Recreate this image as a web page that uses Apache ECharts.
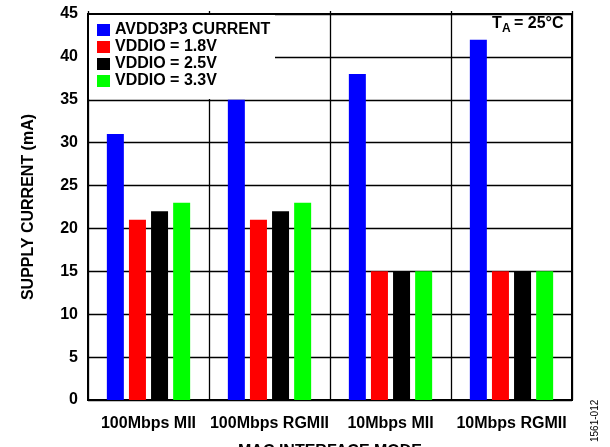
<!DOCTYPE html>
<html><head><meta charset="utf-8">
<script src="https://cdn.jsdelivr.net/npm/echarts@6/dist/echarts.min.js"></script>
<style>html,body{margin:0;padding:0;background:#fff}#c{width:610px;height:447px}</style>
</head><body><div id="c"></div>
<script>
const categories = ['100Mbps MII', '100Mbps RGMII', '10Mbps MII', '10Mbps RGMII'];
const seriesNames = ['AVDD3P3 CURRENT', 'VDDIO = 1.8V', 'VDDIO = 2.5V', 'VDDIO = 3.3V'];
const avdd3p3 = [31, 35, 38, 42];
const vddio18 = [21, 21, 15, 15];
const vddio25 = [22, 22, 15, 15];
const vddio33 = [23, 23, 15, 15];
const yTicks = [0, 5, 10, 15, 20, 25, 30, 35, 40, 45];
const colors = ['#0000ff', '#ff0000', '#000000', '#00ff00'];
const values = [avdd3p3, vddio18, vddio25, vddio33];

const F = '"Liberation Sans", Arial, sans-serif';
const chart = echarts.init(document.getElementById('c'), null, {renderer: 'canvas'});
chart.setOption({
  animation: false,
  backgroundColor: '#fff',
  textStyle: {fontFamily: F},
  grid: {left: 88, right: 38, top: 14, bottom: 47, show: true, borderColor: '#000', borderWidth: 2,
    backgroundColor: 'transparent', containLabel: false, outerBoundsMode: 'none'},
  legend: {
    orient: 'vertical', left: 97, top: 22, padding: 0, itemGap: 1,
    itemWidth: 13, itemHeight: 12, itemTextGap: 5, icon: 'rect', z: 6,
    data: seriesNames,
    textStyle: {fontFamily: F, fontWeight: 'bold', fontSize: 16, color: '#000', lineHeight: 16}
  },
  graphic: [
    {type: 'rect', z: 5, shape: {x: 89, y: 15, width: 186, height: 84}, style: {fill: '#fff'}},
    {type: 'text', z: 6, left: 492, top: 16, style: {text: 'T', font: 'bold 16px ' + F, fill: '#000'}},
    {type: 'text', z: 6, left: 502, top: 23, style: {text: 'A', font: 'bold 12px ' + F, fill: '#000'}},
    {type: 'text', z: 6, left: 514, top: 16, style: {text: '= 25°C', font: 'bold 16px ' + F, fill: '#000'}},
    {type: 'text', z: 6, x: 590, y: 442, rotation: Math.PI / 2, style: {text: '1561-012', font: '10px ' + F, fill: '#000'}}
  ],
  xAxis: [{
    type: 'category', data: categories, position: 'bottom',
    axisLine: {show: true, lineStyle: {color: '#000', width: 2}},
    axisTick: {show: false},
    axisLabel: {interval: 0, fontFamily: F, fontWeight: 'bold', fontSize: 16, color: '#000', margin: 16},
    splitLine: {show: true, interval: 0, lineStyle: {color: '#000', width: 1.3}},
    name: 'MAC INTERFACE MODE', nameLocation: 'middle', nameGap: 44,
    nameTextStyle: {fontFamily: F, fontWeight: 'bold', fontSize: 16, color: '#000', verticalAlign: 'top', lineHeight: 16}
  }, {
    type: 'category', data: categories, position: 'top',
    axisLine: {show: false},
    axisTick: {show: true, interval: 0, inside: false, length: 3, lineStyle: {color: '#000', width: 1.3}},
    axisLabel: {show: false}, splitLine: {show: false}
  }],
  yAxis: {
    type: 'value', min: 0, max: 45, interval: 5,
    axisLine: {show: true, lineStyle: {color: '#000', width: 2}},
    axisTick: {show: false},
    axisLabel: {fontFamily: F, fontWeight: 'bold', fontSize: 16, color: '#000', margin: 10,
      formatter: v => yTicks.includes(v) ? String(v) : ''},
    splitLine: {show: true, lineStyle: {color: '#000', width: 1.3}},
    name: 'SUPPLY CURRENT (mA)', nameLocation: 'middle', nameGap: 51,
    nameTextStyle: {fontFamily: F, fontWeight: 'bold', fontSize: 16, color: '#000'}
  },
  series: values.map((d, i) => ({
    type: 'bar', name: seriesNames[i], data: d, barWidth: 17, barGap: '30%',
    itemStyle: {color: colors[i]}, z: 3
  }))
});
</script></body></html>
